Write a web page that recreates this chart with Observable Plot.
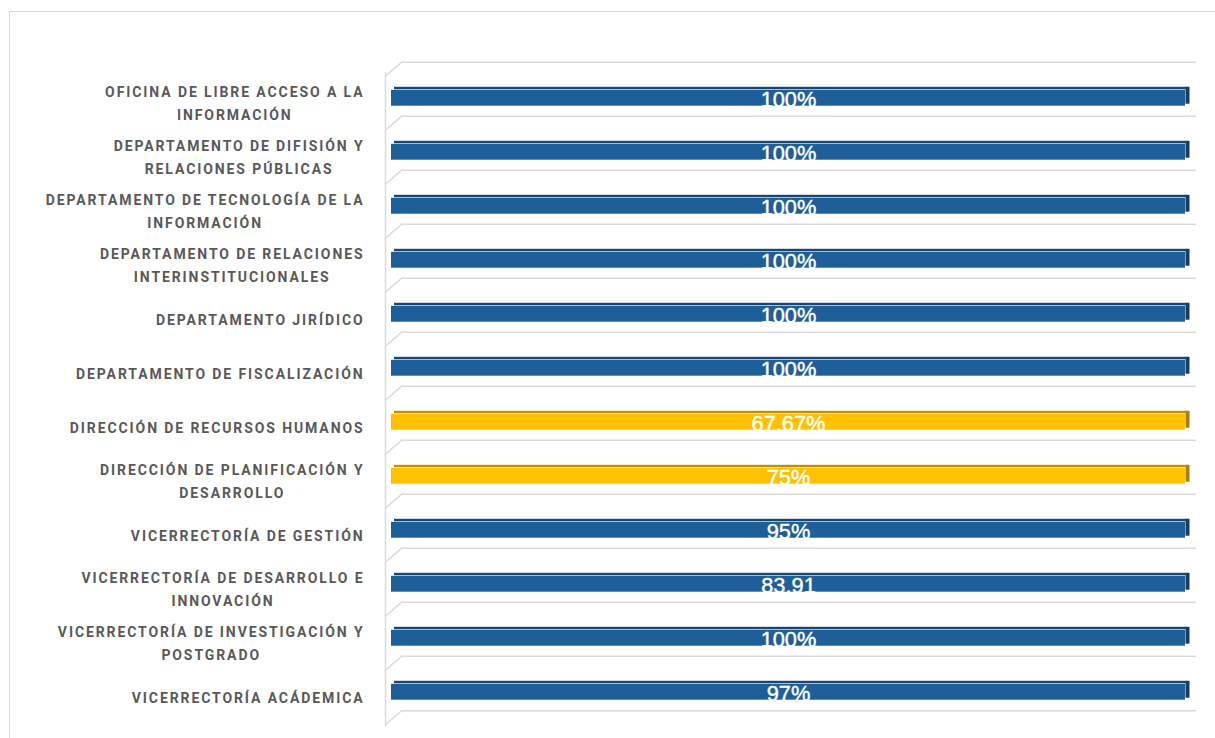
<!DOCTYPE html>
<html><head><meta charset="utf-8">
<script src="https://cdn.jsdelivr.net/npm/d3@7"></script>
<script src="https://cdn.jsdelivr.net/npm/@observablehq/plot@0.6"></script>
<style>
html,body{margin:0;padding:0;background:#fff;overflow:hidden;}
#frame{position:absolute;left:9px;top:11px;width:1400px;height:900px;border:1px solid #d9d9d9;box-sizing:border-box;}
#chart{position:absolute;left:0;top:0;}
</style></head><body><div id="frame"></div><div id="chart"></div>
<script>
const categories = [
  "OFICINA DE LIBRE ACCESO A LA\nINFORMACIÓN",
  "DEPARTAMENTO DE DIFISIÓN Y\nRELACIONES PÚBLICAS",
  "DEPARTAMENTO DE TECNOLOGÍA DE LA\nINFORMACIÓN",
  "DEPARTAMENTO DE RELACIONES\nINTERINSTITUCIONALES",
  "DEPARTAMENTO JIRÍDICO",
  "DEPARTAMENTO DE FISCALIZACIÓN",
  "DIRECCIÓN DE RECURSOS HUMANOS",
  "DIRECCIÓN DE PLANIFICACIÓN Y\nDESARROLLO",
  "VICERRECTORÍA DE GESTIÓN",
  "VICERRECTORÍA DE DESARROLLO E\nINNOVACIÓN",
  "VICERRECTORÍA DE INVESTIGACIÓN Y\nPOSTGRADO",
  "VICERRECTORÍA ACÁDEMICA"
];
const values = [100, 100, 100, 100, 100, 100, 67.67, 75, 95, 83.91, 100, 97];
const valueLabels = ["100%", "100%", "100%", "100%", "100%", "100%", "67.67%", "75%", "95%", "83.91", "100%", "97%"];
// bar lengths as drawn in the picture (every bar spans the full axis)
const barLengths = [100, 100, 100, 100, 100, 100, 100, 100, 100, 100, 100, 100];

const rows = categories.map((c, i) => ({cat: c, value: values[i], label: valueLabels[i], len: barLengths[i]}));

const W = 1215, H = 738, mT = 58, mB = 25, mL = 401, mR = 19;
const bw = (H - mT - mB) / categories.length;
const half = bw / 2;
const low = d => d.value < 80;
const frontC = d => low(d) ? "#FFC000" : "#1F5F99";
const topC = d => low(d) ? "#BF9000" : "#1A4672";
const sideC = d => low(d) ? "#A87E00" : "#163C62";
const grid = "#d9d9d9";

const lineShape = {draw(context, l) { context.moveTo(0, 0); context.lineTo(0, -l); }};
function diag(data, dy) {
  return Plot.vector(data, {x: 0, y: d => d, dy, length: Math.hypot(16, 14), rotate: 180 + Math.atan2(16, 14) * 180 / Math.PI,
    anchor: "start", shape: lineShape, stroke: grid, strokeWidth: 1.5});
}

const plot = Plot.plot({
  width: W, height: H,
  marginTop: mT, marginBottom: mB, marginLeft: mL, marginRight: mR,
  x: {domain: [0, 100], axis: null},
  y: {domain: categories, padding: 0, axis: null},
  style: {background: "transparent", overflow: "visible"},
  marks: [
    Plot.ruleY(categories, {y: d => d, dy: -half, stroke: grid, strokeWidth: 1.5}),
    Plot.ruleY([categories[categories.length - 1]], {y: d => d, dy: half, stroke: grid, strokeWidth: 1.5}),
    Plot.ruleX([0], {dx: -16, dy: 14, stroke: grid, strokeWidth: 1.5}),
    diag(categories, -half),
    diag([categories[categories.length - 1]], half),
    Plot.tickX(rows, {x: "len", y: "cat", dx: -9, stroke: sideC, strokeWidth: 4, insetTop: half - 2.5, insetBottom: half - 15}),
    Plot.barX(rows, {x: "len", y: "cat", dx: -10, insetRight: 1, insetTop: half + 0.5, insetBottom: half - 17, fill: frontC}),
    Plot.barX(rows, {x: "len", y: "cat", dx: -7, insetRight: 2, insetTop: half - 2.5, insetBottom: half - 0.5, fill: topC}),
    Plot.text(rows, {x: d => d.len / 2, y: "cat", text: "label", dx: -10.5, dy: 10.6, fill: "white",
      stroke: "white", strokeWidth: 0.4,
      fontSize: 21.8, fontFamily: "Liberation Sans, Arial, sans-serif"}),
    Plot.text(rows, {x: 0, y: "cat", text: "cat", dx: -37, dy: 12, textAnchor: "middle", lineHeight: 1.643,
      fontSize: 14, fontWeight: 700, fill: "#595959", fontFamily: "Roboto, sans-serif"})
  ]
});
document.getElementById("chart").append(plot);
const groups = plot.querySelectorAll('g[aria-label="text"]');
const labelGroup = groups[groups.length - 1];
labelGroup.style.letterSpacing = "1.9px";
labelGroup.querySelectorAll("text").forEach(t => {
  const w = t.getBBox().width;
  const tr = t.getAttribute("transform") || "";
  t.setAttribute("transform", tr + ` translate(${-w / 2},0)`);
});
</script>
</body></html>
